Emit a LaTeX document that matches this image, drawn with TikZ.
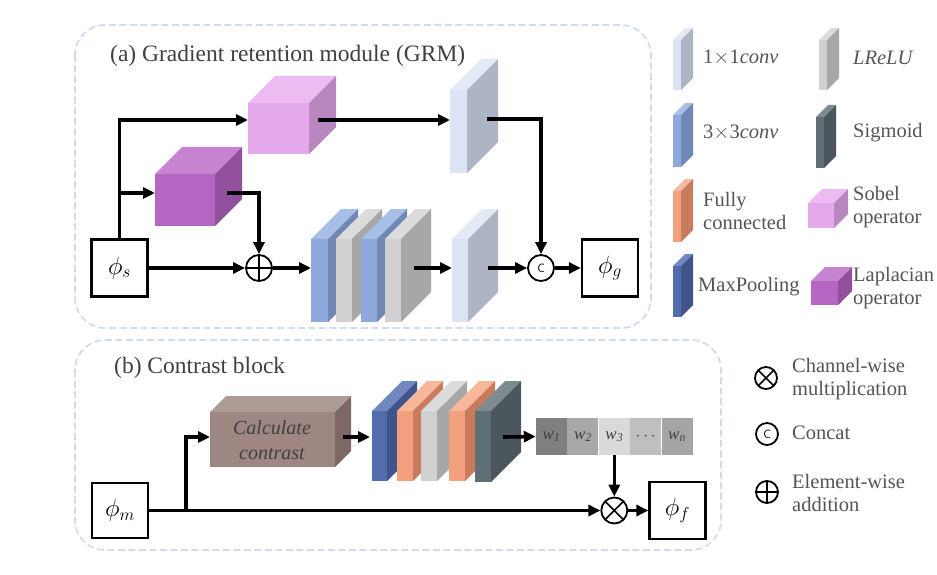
\documentclass[tikz,border=0pt]{standalone}
\usepackage{fontspec}
\setmainfont{Liberation Serif}
\usetikzlibrary{arrows.meta,positioning}

\definecolor{dashblue}{HTML}{CFDBF1}
\definecolor{titlegray}{HTML}{404040}
\definecolor{legendgray}{HTML}{555555}
% 1x1 conv
\definecolor{ccF}{HTML}{DCE4F3}\definecolor{ccS}{HTML}{ADB4C4}\definecolor{ccT}{HTML}{E4EAF5}
% 3x3 conv
\definecolor{cvF}{HTML}{8EA9DB}\definecolor{cvS}{HTML}{7088B5}\definecolor{cvT}{HTML}{A7BEE6}
% LReLU
\definecolor{lrF}{HTML}{D0D0D0}\definecolor{lrS}{HTML}{A7A7A7}\definecolor{lrT}{HTML}{DCDCDC}
% Sigmoid
\definecolor{sgF}{HTML}{5F6F75}\definecolor{sgS}{HTML}{4B575C}\definecolor{sgT}{HTML}{7E8C91}
% fully connected
\definecolor{fcF}{HTML}{F4A07E}\definecolor{fcS}{HTML}{C97B5E}\definecolor{fcT}{HTML}{F7B79B}
% MaxPooling
\definecolor{mpF}{HTML}{516DAC}\definecolor{mpS}{HTML}{40538A}\definecolor{mpT}{HTML}{7087BF}
% Sobel / Laplacian / contrast
\definecolor{sbF}{HTML}{E4A9EB}\definecolor{sbS}{HTML}{B987C0}\definecolor{sbT}{HTML}{EBBBF1}
\definecolor{lpF}{HTML}{B566C3}\definecolor{lpS}{HTML}{924F9E}\definecolor{lpT}{HTML}{C684D0}
\definecolor{ctF}{HTML}{9E8683}\definecolor{ctS}{HTML}{7D6866}\definecolor{ctT}{HTML}{AE9A97}
% weights
\definecolor{wA}{HTML}{7F7F7F}\definecolor{wB}{HTML}{AAA7A7}\definecolor{wC}{HTML}{D9D9D9}
\definecolor{wD}{HTML}{BFBFBF}\definecolor{wE}{HTML}{A7A4A4}

% block: x, y(top), width, height, depth, front, side, top
\newcommand{\blk}[8]{%
  \fill[#8] (#1,#2) -- ++(#5,-#5) -- ++(#3,0) -- ++(-#5,#5) -- cycle;
  \fill[#7] (#1+#3,#2) -- ++(#5,-#5) -- ++(0,#4) -- ++(-#5,#5) -- cycle;
  \fill[#6] (#1,#2) rectangle ++(#3,#4);}
\newcommand{\wlab}[1]{\textit{w}\textsubscript{\textit{#1}}}

\tikzset{
  arr/.style={line width=3.6pt,-{Triangle[length=12pt,width=11pt]}},
  fbox/.style={draw,line width=2.3pt,minimum width=56pt,minimum height=57pt,inner sep=0pt,
    font=\fontsize{26}{30}\selectfont},
  opc/.style={circle,draw,line width=1.8pt,minimum size=26pt,inner sep=0pt,fill=white},
  opplus/.style={opc,path picture={\draw[line width=1.6pt]
    (path picture bounding box.north) -- (path picture bounding box.south)
    (path picture bounding box.west) -- (path picture bounding box.east);}},
  optimes/.style={opc,path picture={\draw[line width=1.6pt]
    (path picture bounding box.center) +(-14,-14) -- +(14,14)
    (path picture bounding box.center) +(-14,14) -- +(14,-14);}},
  opcat/.style={opc,font=\sffamily\fontsize{12}{12}\selectfont},
  legop/.style={minimum size=22pt},
  titletext/.style={anchor=base west,inner sep=0pt,text=titlegray,font=\fontsize{23.5}{27}\selectfont},
  legtext/.style={anchor=west,inner sep=0pt,align=left,text=legendgray,font=\fontsize{20.5}{23}\selectfont},
  wcell/.style={minimum width=31pt,minimum height=37pt,inner sep=0pt,text=titlegray,
    font=\fontsize{17}{19}\selectfont}
}

\begin{document}
\begin{tikzpicture}[x=1pt,y=-1pt]
\useasboundingbox (0,0) rectangle (937,575);

% dashed frames
\draw[dashblue,line width=1.7pt,dash pattern=on 7pt off 3.5pt,rounded corners=30pt] (75,25) rectangle (651,328);
\draw[dashblue,line width=1.7pt,dash pattern=on 7pt off 3.5pt,rounded corners=30pt] (75,340) rectangle (721,550);
\node[titletext] at (110,62) {(a) Gradient retention module (GRM)};
\node[titletext] at (114,373) {(b) Contrast block};

% (a) GRM
\blk{248}{103}{61}{51}{27}{sbF}{sbS}{sbT}
\blk{155}{174}{60}{52}{27}{lpF}{lpS}{lpT}
\blk{450}{90}{17}{83}{31}{ccF}{ccS}{ccT}
\blk{311}{239}{17}{83}{30}{cvF}{cvS}{cvT}
\blk{336}{239}{16}{83}{30}{lrF}{lrS}{lrT}
\blk{361}{239}{16}{83}{30}{cvF}{cvS}{cvT}
\blk{385}{239}{16}{83}{30}{lrF}{lrS}{lrT}
\blk{452}{239}{16}{83}{30}{ccF}{ccS}{ccT}

\coordinate (sobelin) at (248,120);
\coordinate (sobelout) at (318,120);
\coordinate (lapin) at (155,193);
\coordinate (lapout) at (227,193);
\coordinate (topconvin) at (450,120);
\coordinate (topconvout) at (487,119);
\coordinate (stackin) at (311,268);
\coordinate (stackout) at (414,268);
\coordinate (botconvin) at (452,268);
\coordinate (botconvout) at (488,268);

\node[fbox] (phis) at (119.5,268) {$\phi_s$};
\node[fbox] (phig) at (610,268) {$\phi_g$};
\node[opplus] (add) at (259,268) {};
\node[opcat] (cat) at (541,268) {C};

\draw[arr] (phis.north) |- (sobelin);
\draw[arr] (phis.north |- lapin) -- (lapin);
\draw[arr] (lapout) -| (add.north);
\draw[arr] (phis) -- (add);
\draw[arr] (add) -- (stackin);
\draw[arr] (sobelout) -- (topconvin);
\draw[arr] (topconvout) -| (cat.north);
\draw[arr] (stackout) -- (botconvin);
\draw[arr] (botconvout) -- (cat);
\draw[arr] (cat) -- (phig);

% (b) contrast block
\blk{210}{412}{125}{55}{16}{ctF}{ctS}{ctT}
\node[align=center,text=titlegray,font=\itshape\fontsize{20}{25}\selectfont] (calc) at (272,440) {Calculate\\contrast};
\blk{372}{411}{15}{70}{30}{mpF}{mpS}{mpT}
\blk{397}{411}{16}{70}{30}{fcF}{fcS}{fcT}
\blk{421}{411}{16}{70}{30}{lrF}{lrS}{lrT}
\blk{449}{411}{16}{70}{30}{fcF}{fcS}{fcT}
\blk{475}{411}{16}{71}{30}{sgF}{sgS}{sgT}

\coordinate (calcin) at (210,437);
\coordinate (calcout) at (343,437);
\coordinate (fcin) at (370,437);
\coordinate (fcout) at (503,437);

\node[wcell,fill=wA] (w1) at (551.5,436.5) {\wlab{1}};
\node[wcell,fill=wB,right=0pt of w1] (w2) {\wlab{2}};
\node[wcell,fill=wC,right=0pt of w2] (w3) {\wlab{3}};
\node[wcell,fill=wD,right=0pt of w3] (w4) {$\cdots$};
\node[wcell,fill=wE,right=0pt of w4] (wn) {\wlab{n}};

\node[fbox,minimum height=55pt] (phim) at (120,510.5) {$\phi_m$};
\node[fbox] (phif) at (677.5,510.5) {$\phi_f$};
\node[optimes] (mul) at (w3.south |- phim) {};

\draw[arr] (phim) -- (mul);
\draw[arr] ([xshift=37pt]phim.east) |- (calcin);
\draw[arr] (calcout) -- (fcin);
\draw[arr] (fcout) -- (w1.west);
\draw[arr] (w3.south) -- (mul);
\draw[arr] (mul) -- (phif);

% legend
\blk{673}{40}{8}{50}{12}{ccF}{ccS}{ccT}
\blk{819}{40}{8}{50}{12}{lrF}{lrS}{lrT}
\blk{673}{115}{8}{52}{12}{cvF}{cvS}{cvT}
\blk{816}{117}{8}{51}{12}{sgF}{sgS}{sgT}
\blk{673}{191}{8}{51}{12}{fcF}{fcS}{fcT}
\blk{673}{266}{8}{51}{12}{mpF}{mpS}{mpT}
\blk{808}{203}{26}{25}{14}{sbF}{sbS}{sbT}
\blk{811}{281}{27}{24}{14}{lpF}{lpS}{lpT}
\node[legtext] (lconv1) at (703,58) {1$\times$1\textit{conv}};
\node[legtext] (llrelu) at (853,58) {\textit{LReLU}};
\node[legtext] (lconv3) at (703,133) {3$\times$3\textit{conv}};
\node[legtext] (lsig) at (853,133) {Sigmoid};
\node[legtext] (lfc) at (703,211) {Fully\\connected};
\node[legtext] (lsobel) at (853,207) {Sobel\\operator};
\node[legtext] (lpool) at (698,287) {MaxPooling};
\node[legtext] (llap) at (853,288) {Laplacian\\operator};

\node[optimes,legop] (lmul) at (766,378) {};
\node[opcat,legop] (lcat) at (767,434) {C};
\node[opplus,legop] (ladd) at (767,492) {};
\node[legtext] at (792,379) {Channel-wise\\multiplication};
\node[legtext] at (792,433) {Concat};
\node[legtext] at (792,493) {Element-wise\\addition};
\end{tikzpicture}
\end{document}
